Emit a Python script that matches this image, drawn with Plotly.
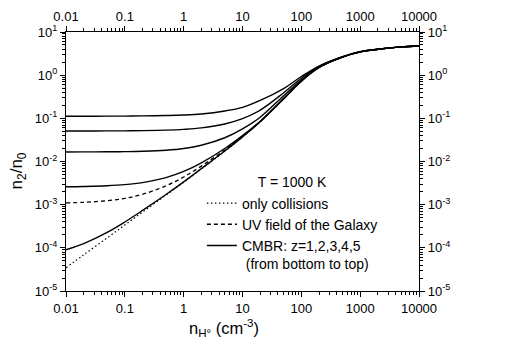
"""H2 level population ratio n2/n0 versus hydrogen density."""

import plotly.graph_objects as go

# density grid (cm^-3)
n_h = [0.01, 0.02, 0.05, 0.1, 0.2, 0.5, 1, 2, 5, 10, 20, 50, 100, 200, 500, 1000, 2000, 5000, 10000]

# only collisions
coll = [3.47e-5, 6.9e-5, 1.70e-4, 3.39e-4, 6.76e-4, 1.66e-3, 3.31e-3, 6.76e-3, 0.0174, 0.0372,
        0.0832, 0.282, 0.724, 1.51, 2.63, 3.47, 3.98, 4.52, 4.74]
# UV field of the Galaxy
uv = [1.10e-3, 1.134e-3, 1.235e-3, 1.404e-3, 1.741e-3, 2.725e-3, 4.375e-3, 7.83e-3, 0.0185, 0.0383,
      0.0843, 0.283, 0.725, 1.51, 2.63, 3.47, 3.98, 4.52, 4.74]
# CMBR, z = 1..5
cmb_z1 = [9.0e-5, 1.25e-4, 2.27e-4, 3.97e-4, 7.35e-4, 1.72e-3, 3.37e-3, 6.82e-3, 0.01746, 0.03726,
          0.0833, 0.282, 0.724, 1.51, 2.63, 3.47, 3.98, 4.52, 4.74]
cmb_z2 = [2.60e-3, 2.64e-3, 2.74e-3, 2.91e-3, 3.25e-3, 4.23e-3, 5.88e-3, 9.33e-3, 0.0200, 0.0398,
          0.0858, 0.290, 0.735, 1.52, 2.63, 3.47, 3.98, 4.52, 4.74]
cmb_z3 = [0.01663, 0.01667, 0.01677, 0.01694, 0.01728, 0.01826, 0.0200, 0.0238, 0.0355, 0.057,
          0.106, 0.335, 0.775, 1.54, 2.64, 3.47, 3.98, 4.52, 4.74]
cmb_z4 = [0.0510, 0.0510, 0.0511, 0.0513, 0.0518, 0.0532, 0.0555, 0.060, 0.074, 0.098,
          0.155, 0.390, 0.850, 1.58, 2.65, 3.48, 3.98, 4.52, 4.74]
cmb_z5 = [0.112, 0.112, 0.1123, 0.1128, 0.1138, 0.116, 0.119, 0.126, 0.148, 0.180,
          0.260, 0.490, 0.930, 1.63, 2.67, 3.48, 3.99, 4.52, 4.74]

x_ticks = [0.01, 0.1, 1, 10, 100, 1000, 10000]
x_labels = ["0.01", "0.1", "1", "10", "100", "1000", "10000"]
y_ticks = [1e-5, 1e-4, 1e-3, 1e-2, 1e-1, 1, 10]
y_labels = ["10<sup>-5</sup>", "10<sup>-4</sup>", "10<sup>-3</sup>", "10<sup>-2</sup>",
            "10<sup>-1</sup>", "10<sup>0</sup>", "10<sup>1</sup>"]

FONT = "Liberation Sans, Arial, sans-serif"

fig = go.Figure()
fig.add_trace(go.Scatter(x=n_h, y=coll, mode="lines", name="only collisions",
                         line=dict(color="black", width=1.2, dash="1.5px,2.5px", shape="spline")))
fig.add_trace(go.Scatter(x=n_h, y=uv, mode="lines", name="UV field of the Galaxy",
                         line=dict(color="black", width=1.3, dash="4px,3px", shape="spline")))
for i, ys in enumerate([cmb_z1, cmb_z2, cmb_z3, cmb_z4, cmb_z5]):
    fig.add_trace(go.Scatter(x=n_h, y=ys, mode="lines",
                             name="CMBR: z=1,2,3,4,5<br>\u00a0(from bottom to top)",
                             legendgroup="cmbr", showlegend=(i == 0),
                             line=dict(color="black", width=1.4, shape="spline")))
# dummy trace so the top/right axes get drawn
fig.add_trace(go.Scatter(x=[1], y=[1], xaxis="x2", yaxis="y2", mode="markers",
                         marker=dict(opacity=0), showlegend=False, hoverinfo="skip"))

axis_common = dict(type="log", showgrid=False, zeroline=False, showline=True, linecolor="black",
                   linewidth=1.2, ticks="outside", ticklen=5, tickwidth=1.2, tickcolor="black",
                   automargin=False,
                   tickfont=dict(size=13, color="black", family=FONT),
                   minor=dict(ticks="outside", ticklen=3, tickwidth=1, tickcolor="black", dtick="D1"))

fig.update_layout(
    width=518, height=361,
    margin=dict(l=58, r=107, t=24, b=78),
    paper_bgcolor="white", plot_bgcolor="white",
    font=dict(family=FONT, size=14, color="black"),
    showlegend=True,
    legend=dict(x=0.385, y=0.47, xanchor="left", yanchor="top", bgcolor="rgba(0,0,0,0)",
                valign="top", font=dict(size=14), tracegroupgap=0,
                title=dict(text="T = 1000 K", side="top center", font=dict(size=14))),
    xaxis=dict(axis_common, range=[-2, 4], tickvals=x_ticks, ticktext=x_labels),
    yaxis=dict(axis_common, range=[-5, 1], tickvals=y_ticks, ticktext=y_labels),
    xaxis2=dict(axis_common, range=[-2, 4], tickvals=x_ticks, ticktext=x_labels,
                overlaying="x", side="top", anchor="y"),
    yaxis2=dict(axis_common, range=[-5, 1], tickvals=y_ticks, ticktext=y_labels,
                overlaying="y", side="right", anchor="x"),
    annotations=[
        dict(text="n<sub>H°</sub> (cm<sup>-3</sup>)", xref="paper", yref="paper",
             x=0.447, y=-0.143, xanchor="center", yanchor="middle", showarrow=False,
             font=dict(size=16.5)),
        dict(text="n<sub>2</sub>/n<sub>0</sub>", xref="paper", yref="paper",
             x=-0.135, y=0.463, xanchor="center", yanchor="middle", showarrow=False,
             textangle=-90, font=dict(size=17)),
    ],
)

fig.write_html("out.html")
